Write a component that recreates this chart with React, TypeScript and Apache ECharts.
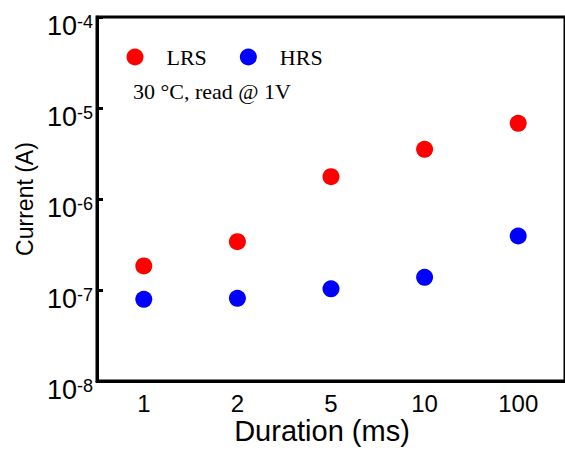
import React, { useEffect, useRef } from "react";
import * as echarts from "echarts";

const durations = ["1", "2", "5", "10", "100"];
const lrsCurrent = [1.84e-7, 3.4e-7, 1.76e-6, 3.52e-6, 6.79e-6];
const hrsCurrent = [7.91e-8, 8.1e-8, 1.03e-7, 1.38e-7, 3.92e-7];
const yExponents = [-8, -7, -6, -5, -4];
const seriesNames = ["LRS", "HRS"];
const annotation = "30 °C, read @ 1V";

export default function App() {
  const ref = useRef<HTMLDivElement>(null);
  useEffect(() => {
    if (!ref.current) return;
    const chart = echarts.init(ref.current, null, { renderer: "svg" });
    const sans = "Liberation Sans, Arial, sans-serif";
    const serif = "Liberation Serif, Times New Roman, serif";
    chart.setOption({
      animation: false,
      backgroundColor: "#ffffff",
      grid: {
        left: 97,
        top: 17,
        width: 472.5,
        height: 364,
        show: true,
        borderColor: "#000",
        borderWidth: 3,
        containLabel: false,
      },
      legend: {
        left: 121.5,
        top: 41,
        padding: 5,
        itemWidth: 17,
        itemHeight: 17,
        itemGap: 33,
        icon: "circle",
        data: seriesNames,
        textStyle: {
          fontFamily: serif,
          fontSize: 22,
          color: "#000",
          padding: [0, 0, 0, 18],
        },
      },
      graphic: [
        {
          type: "text",
          left: 133,
          top: 80,
          style: {
            text: annotation,
            font: `22px ${serif}`,
            fill: "#000",
          },
        },
      ],
      xAxis: {
        type: "category",
        data: durations,
        boundaryGap: true,
        name: "Duration (ms)",
        nameLocation: "middle",
        nameGap: 35,
        nameMoveOverlap: false,
        nameTextStyle: {
          fontFamily: sans,
          fontSize: 29,
          lineHeight: 29,
          color: "#000",
          padding: [0, 18, 0, 0],
        },
        axisLine: { lineStyle: { color: "#000", width: 3 } },
        axisTick: {
          alignWithLabel: true,
          inside: true,
          length: 6,
          lineStyle: { color: "#000", width: 3 },
        },
        axisLabel: {
          margin: 10,
          fontFamily: sans,
          fontSize: 24,
          lineHeight: 24,
          color: "#000",
        },
        splitLine: { show: false },
      },
      yAxis: {
        type: "log",
        logBase: 10,
        min: Math.pow(10, yExponents[0]),
        max: Math.pow(10, yExponents[yExponents.length - 1]),
        splitNumber: yExponents.length - 1,
        name: "Current (A)",
        nameLocation: "middle",
        nameGap: 60,
        nameTextStyle: {
          fontFamily: sans,
          fontSize: 23,
          color: "#000",
        },
        axisLine: { show: true, lineStyle: { color: "#000", width: 3 } },
        axisTick: {
          show: true,
          inside: true,
          length: 6,
          lineStyle: { color: "#000", width: 3 },
        },
        minorTick: { show: false },
        splitLine: { show: false },
        axisLabel: {
          margin: 4,
          padding: [18, 0, 0, 0],
          formatter: (v: number) => {
            const e = Math.round(Math.log10(v));
            return `{a|10}{b|${e}}`;
          },
          rich: {
            a: {
              fontFamily: sans,
              fontSize: 27,
              lineHeight: 26,
              color: "#000",
              verticalAlign: "bottom",
            },
            b: {
              fontFamily: sans,
              fontSize: 18,
              lineHeight: 18,
              color: "#000",
              verticalAlign: "bottom",
              padding: [0, 0, 8, 0],
            },
          },
        },
      },
      series: [
        {
          name: seriesNames[0],
          type: "scatter",
          data: lrsCurrent,
          symbol: "circle",
          symbolSize: 17,
          itemStyle: { color: "#ff0000", opacity: 1 },
        },
        {
          name: seriesNames[1],
          type: "scatter",
          data: hrsCurrent,
          symbol: "circle",
          symbolSize: 17,
          itemStyle: { color: "#0000ff", opacity: 1 },
        },
      ],
    });
    return () => chart.dispose();
  }, []);
  return (
    <div
      ref={ref}
      style={{ position: "fixed", left: 0, top: 0, width: 565, height: 454 }}
    />
  );
}
